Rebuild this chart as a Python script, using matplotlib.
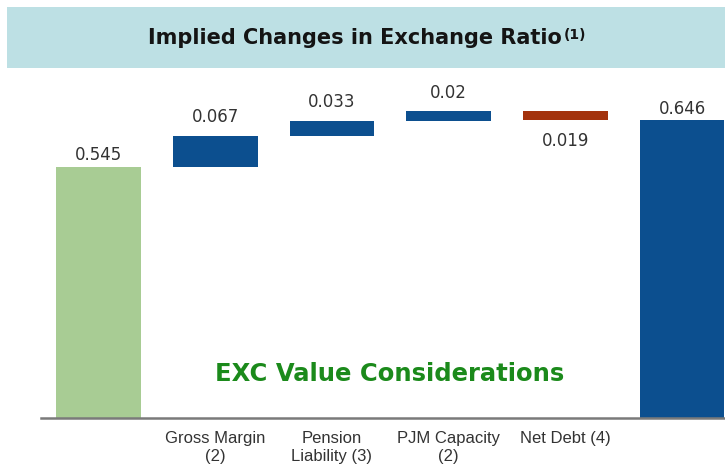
import matplotlib

matplotlib.use("Agg")
import matplotlib.pyplot as plt
from matplotlib.patches import Rectangle

categories = ["", "Gross Margin\n(2)", "Pension\nLiability (3)", "PJM Capacity\n(2)", "Net Debt (4)", ""]
start_value = 0.545
changes = [0.067, 0.033, 0.02, -0.019]
end_value = 0.646
value_labels = ["0.545", "0.067", "0.033", "0.02", "0.019", "0.646"]

GREEN = "#a8cc94"
BLUE = "#0c4f8f"
RED = "#a3320c"

W, H = 725, 473
fig = plt.figure(figsize=(W / 100, H / 100), dpi=100)

left_px, bottom_px = 41, 418
top_px = 75
ax = fig.add_axes([left_px / W, 1 - bottom_px / H, (W - left_px) / W, (bottom_px - top_px) / H])

# title banner (behind everything)
fig.patches.append(Rectangle((7 / W, 1 - 68 / H), 1, 61 / H, transform=fig.transFigure,
                             facecolor="#bde0e4", edgecolor="none", zorder=-1))
title = fig.text(355 / W, 1 - 38 / H, "Implied Changes in Exchange Ratio", ha="center", va="center",
                 fontsize=15, fontweight="bold", family="DejaVu Sans", color="#141414")
ax.annotate("(1)", xy=(1, 1), xycoords=title, xytext=(1, 0), textcoords="offset points",
            ha="left", va="top", fontsize=10, fontweight="bold", color="#141414",
            annotation_clip=False, zorder=5)

x = list(range(len(categories)))
step = 116.7
ax.set_xlim((left_px - 98.5) / step, (W - 98.5) / step)
ax.set_ylim(0, (bottom_px - top_px) / 461)

bw = 0.725
ax.bar(x[0], start_value, width=bw, color=GREEN)
running = start_value
bottoms, heights, colors = [], [], []
for c in changes:
    bottoms.append(min(running, running + c))
    heights.append(abs(c))
    colors.append(BLUE if c >= 0 else RED)
    running += c
ax.bar(x[1:5], heights, bottom=bottoms, width=bw, color=colors)
ax.bar(x[5], end_value, width=bw, color=BLUE)

lab_kw = dict(ha="center", va="center", fontsize=12, color="#333333", textcoords="offset points")
ax.annotate(value_labels[0], (x[0], start_value), xytext=(0, 8.3), **lab_kw)
for i, c in enumerate(changes):
    b, h = bottoms[i], heights[i]
    if c >= 0:
        ax.annotate(value_labels[i + 1], (x[i + 1], b + h), xytext=(0, 13.5), **lab_kw)
    else:
        ax.annotate(value_labels[i + 1], (x[i + 1], b), xytext=(0, -15), **lab_kw)
ax.annotate(value_labels[5], (x[5], end_value), xytext=(0, 8.3), **lab_kw)

ax.text(0.509, 0.128, "EXC Value Considerations", transform=ax.transAxes, ha="center", va="center",
        fontsize=17.5, fontweight="bold", color="#1b8a1b", family="DejaVu Sans")

for s in ["top", "right", "left"]:
    ax.spines[s].set_visible(False)
ax.spines["bottom"].set_color("#7a7a7a")
ax.spines["bottom"].set_linewidth(1.8)
ax.set_yticks([])
ax.set_xticks(x)
ax.set_xticklabels(categories, fontsize=12, family="Liberation Sans", color="#333333", linespacing=1.25)
ax.tick_params(axis="x", length=0, pad=9)

fig.savefig("out.png", dpi=100)
